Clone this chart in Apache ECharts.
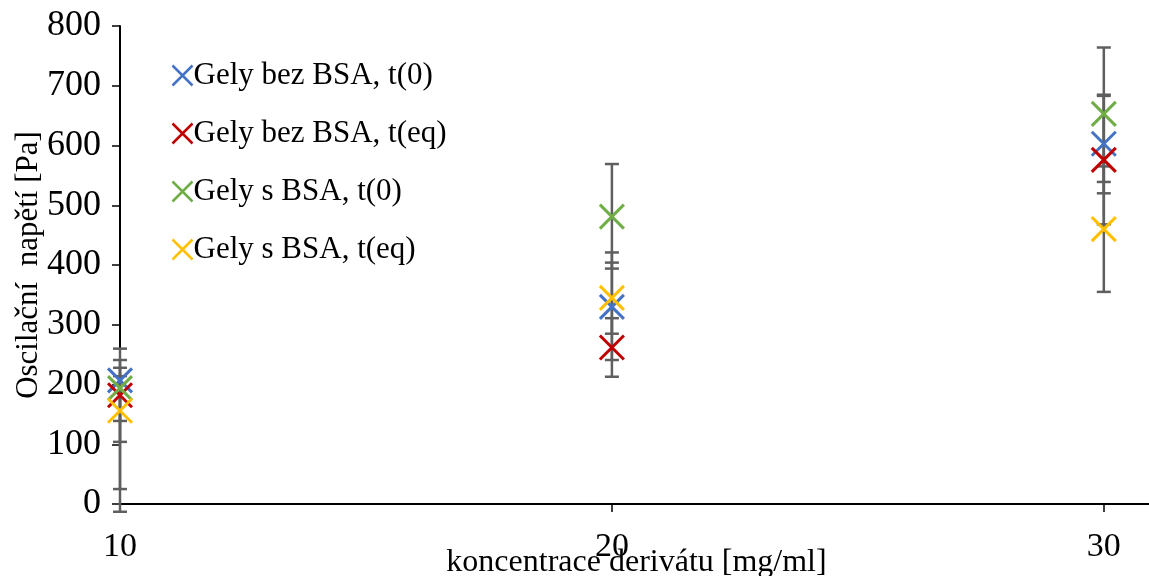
<!DOCTYPE html>
<html>
<head>
<meta charset="utf-8">
<script src="https://cdn.jsdelivr.net/npm/echarts@6/dist/echarts.min.js"></script>
<style>
  html, body { margin: 0; padding: 0; background: #fff; }
  #chart { width: 1149px; height: 576px; }
</style>
</head>
<body>
<div id="chart"></div>
<script>
// koncentrace derivatu [mg/ml]
const concentrations = [10, 20, 30]
const seriesNames = ['Gely bez BSA, t(0)', 'Gely bez BSA, t(eq)', 'Gely s BSA, t(0)', 'Gely s BSA, t(eq)']
const seriesColors = ['#4472C4', '#C00000', '#70AD47', '#FFC000']

// stredni hodnoty
const bezBsaT0 = [207, 330, 603]
const bezBsaTeq = [182, 262, 576]
const sBsaT0 = [194, 481, 653]
const sBsaTeq = [156, 345, 460]

// chybove usecky: [dolni, horni]
const bezBsaT0Err = [[-13, 260], [241, 421], [520, 685]]
const bezBsaTeqErr = [[139, 228], [213, 311], [468, 683]]
const sBsaT0Err = [[25, 241], [394, 569], [539, 764]]
const sBsaTeqErr = [[104, 214], [285, 404], [355, 565]]

const yTicks = [0, 100, 200, 300, 400, 500, 600, 700, 800]

const values = [bezBsaT0, bezBsaTeq, sBsaT0, sBsaTeq]
const errors = [bezBsaT0Err, bezBsaTeqErr, sBsaT0Err, sBsaTeqErr]

const FONT = '"Liberation Serif", "Times New Roman", serif'
const CROSS = 'path://M0,0L10,10M10,0L0,10'

const chart = echarts.init(document.getElementById('chart'))

// chybove usecky pod znackami
const errorSeries = errors.map((errs, si) => ({
  type: 'custom',
  name: seriesNames[si] + ' err',
  z: 1,
  silent: true,
  clip: false,
  data: concentrations.map((c, i) => [c, errs[i][0], errs[i][1]]),
  renderItem(params, api) {
    const x = api.coord([api.value(0), 0])[0]
    const lo = api.coord([api.value(0), api.value(1)])[1]
    const hi = api.coord([api.value(0), api.value(2)])[1]
    const cap = 7
    const style = { stroke: '#5f5f5f', lineWidth: 2.5 }
    return {
      type: 'group',
      children: [
        { type: 'line', shape: { x1: x, y1: lo, x2: x, y2: hi }, style },
        { type: 'line', shape: { x1: x - cap, y1: lo, x2: x + cap, y2: lo }, style },
        { type: 'line', shape: { x1: x - cap, y1: hi, x2: x + cap, y2: hi }, style }
      ]
    }
  }
}))

const pointSeries = values.map((vals, si) => ({
  type: 'scatter',
  name: seriesNames[si],
  z: 3,
  symbol: CROSS,
  symbolSize: 24,
  itemStyle: {
    color: 'none',
    borderColor: seriesColors[si],
    borderWidth: 3,
    opacity: 1
  },
  emphasis: { disabled: true },
  data: concentrations.map((c, i) => [c, vals[i]])
}))

chart.setOption({
  animation: false,
  grid: { left: 120, right: -4, top: 26, bottom: 72, containLabel: false, outerBoundsMode: 'none' },
  legend: {
    data: seriesNames.map((name, si) => ({
      name,
      icon: CROSS,
      itemStyle: { color: 'none', borderColor: seriesColors[si], borderWidth: 2.5, opacity: 1 }
    })),
    orient: 'vertical',
    left: 165,
    top: 55,
    itemWidth: 20,
    itemHeight: 20,
    itemGap: 27,
    textStyle: { fontFamily: FONT, fontSize: 31, color: '#000', padding: [0, 0, 0, -4] }
  },
  xAxis: {
    type: 'value',
    min: 10,
    max: 31,
    interval: 10,
    name: 'koncentrace derivátu [mg/ml]',
    nameLocation: 'middle',
    nameGap: 43,
    nameMoveOverlap: false,
    nameTextStyle: { fontFamily: FONT, fontSize: 32, color: '#000' },
    axisLine: { lineStyle: { color: '#000', width: 2 } },
    axisTick: { length: 8, lineStyle: { color: '#000', width: 1.5 }, customValues: concentrations },
    axisLabel: { fontFamily: FONT, fontSize: 34, color: '#000', margin: 26, customValues: concentrations },
    splitLine: { show: false }
  },
  yAxis: {
    type: 'value',
    min: 0,
    max: 800,
    interval: 100,
    name: 'Oscilační  napětí [Pa]',
    nameLocation: 'middle',
    nameGap: 76,
    nameMoveOverlap: false,
    nameTextStyle: { fontFamily: FONT, fontSize: 31, color: '#000' },
    axisLine: { show: true, lineStyle: { color: '#000', width: 2 } },
    axisTick: { show: true, length: 8, lineStyle: { color: '#000', width: 1.5 }, customValues: yTicks },
    axisLabel: { fontFamily: FONT, fontSize: 36, color: '#000', margin: 19, customValues: yTicks },
    splitLine: { show: false }
  },
  series: [...errorSeries, ...pointSeries]
})
</script>
</body>
</html>
